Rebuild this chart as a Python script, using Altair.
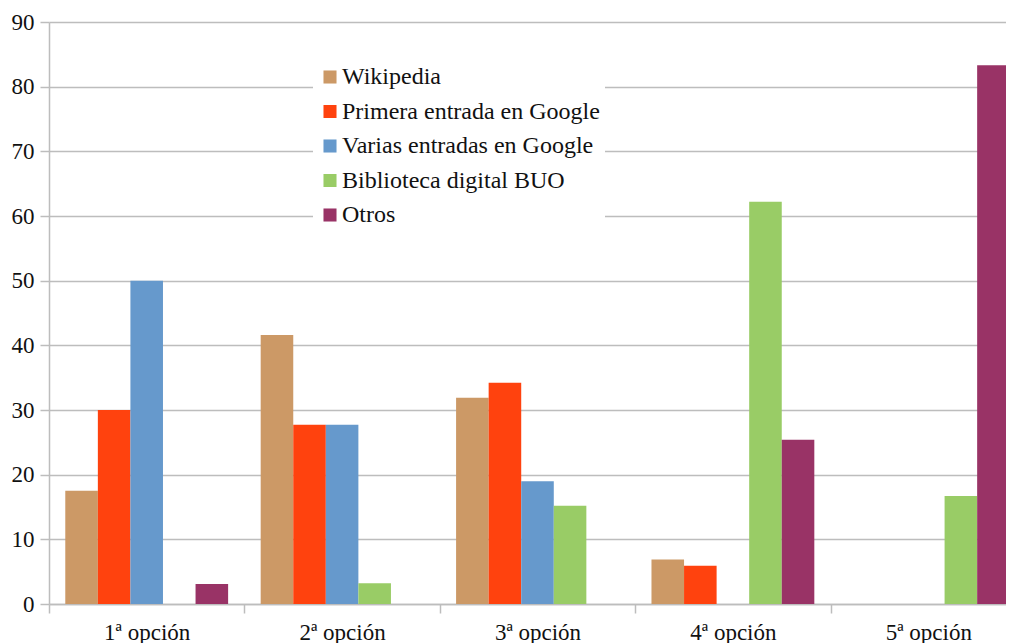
import altair as alt
import pandas as pd

categories = ["1ª opción", "2ª opción", "3ª opción", "4ª opción", "5ª opción"]
series = ["Wikipedia", "Primera entrada en Google", "Varias entradas en Google",
          "Biblioteca digital BUO", "Otros"]
colors = ["#CC9966", "#FF420E", "#6699CC", "#99CC66", "#993366"]

wikipedia = [17.5, 41.6, 31.9, 6.9, 0]
primera = [30.0, 27.7, 34.2, 5.9, 0]
varias = [50.0, 27.7, 19.0, 0, 0]
buo = [0, 3.2, 15.2, 62.2, 16.7]
otros = [3.1, 0, 0, 25.4, 83.3]
y_ticks = [0, 10, 20, 30, 40, 50, 60, 70, 80, 90]

rows = []
for s, vals in zip(series, [wikipedia, primera, varias, buo, otros]):
    for c, v in zip(categories, vals):
        rows.append({"opcion": c, "serie": s, "valor": v})
df = pd.DataFrame(rows)

FONT = "Liberation Serif"
GRID = "#bdbdbd"
TXT = "#111111"

chart = alt.Chart(df).mark_bar().encode(
    x=alt.X("opcion:N", sort=categories, title=None,
            scale=alt.Scale(paddingInner=0, paddingOuter=0, range=[0, 977]),
            axis=alt.Axis(labelAngle=0, tickBand="extent", tickSize=9, tickColor=GRID,
                          tickWidth=1.5, domainColor=GRID, domainWidth=1.5,
                          labelFont=FONT, labelFontSize=23, labelColor=TXT,
                          labelPadding=8, grid=False)),
    xOffset=alt.XOffset("serie:N", sort=series,
                        scale=alt.Scale(paddingInner=0, paddingOuter=0.5)),
    y=alt.Y("valor:Q", title=None, scale=alt.Scale(domain=[0, 90], nice=False),
            axis=alt.Axis(values=y_ticks, tickSize=9, tickColor=GRID, tickWidth=1.5,
                          domainColor=GRID, domainWidth=1.5, gridColor=GRID,
                          gridWidth=1.5, labelFont=FONT, labelFontSize=23,
                          labelColor=TXT, labelPadding=6)),
    color=alt.Color("serie:N", sort=series,
                    scale=alt.Scale(domain=series, range=colors),
                    legend=alt.Legend(title=None, orient="none", legendX=264, legendY=38,
                                      fillColor="white", padding=5, symbolType="square",
                                      symbolSize=170, symbolStrokeWidth=0,
                                      labelFont=FONT, labelFontSize=24, labelColor=TXT,
                                      labelLimit=400, rowPadding=10.5, labelOffset=0)),
).properties(
    width=957, height=582,
    autosize=alt.AutoSizeParams(type="none"),
    padding={"left": 41, "top": 14, "right": 0, "bottom": 40},
).configure_view(stroke=None)

chart.save("out.html", embed_options={"renderer": "svg", "actions": False})
